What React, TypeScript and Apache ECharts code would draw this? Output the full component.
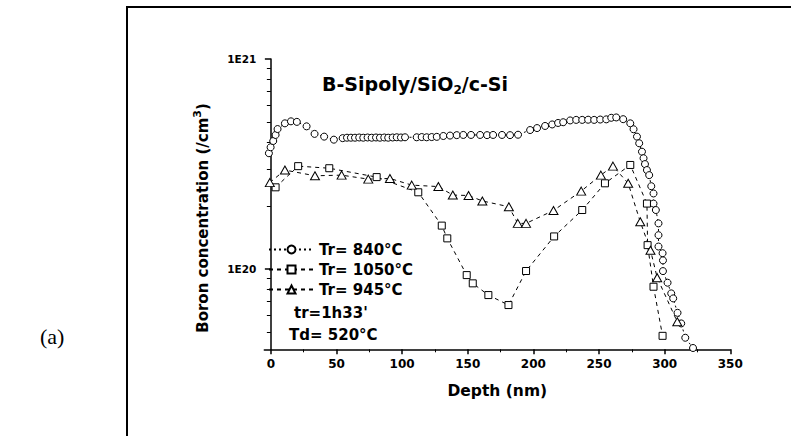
import React, { useEffect, useRef } from 'react';
import * as echarts from 'echarts';

const FONT = 'DejaVu Sans';

// Axis definitions
const X_MIN = -5;
const X_MAX = 350;
const Y_MIN = 4.15e19;
const Y_MAX = 1e21;
const xMajorTicks = [0, 50, 100, 150, 200, 250, 300, 350];
const xMinorTicks = [25, 75, 125, 175, 225, 275, 325];
const yMajorTicks = [1e20, 1e21];
const yMinorTicks = [5e19, 6e19, 7e19, 8e19, 9e19, 2e20, 3e20, 4e20, 5e20, 6e20, 7e20, 8e20, 9e20];

const seriesNames = ['Tr= 840°C', 'Tr= 1050°C', 'Tr= 945°C'];

// Tr = 840°C (circles)
const depth840 = [
  -1.5, -0.2, 1.8, 3.6, 5.1, 10.7, 15.3, 19.8, 27.2, 33.3, 40.6, 48.0, 54.7, 58.0, 61.0, 64.1,
  67.3, 70.4, 73.7, 76.8, 80.1, 83.1, 86.4, 89.4, 92.8, 95.9, 99.1, 102.2, 111.1, 114.9, 118.7,
  122.5, 126.4, 131.4, 136.5, 141.6, 146.6, 152.5, 159.4, 164.7, 169.3, 176.1, 182.2, 188.3,
  197.5, 202.8, 208.9, 214.3, 218.8, 222.7, 228.0, 232.6, 237.2, 241.7, 246.3, 250.9, 255.5,
  259.3, 263.1, 268.4, 273.8, 276.3, 278.9, 280.6, 282.7, 283.9, 285.0, 286.5, 288.2, 289.8,
  291.5, 291.5, 293.3, 295.3, 295.3, 295.3, 298.4, 298.7, 298.7, 302.2, 305.0, 306.5, 309.8,
  312.6, 315.7, 321.6,
];
const conc840 = [
  3.56e20, 3.8e20, 4.07e20, 4.35e20, 4.64e20, 4.94e20, 5.05e20, 5.02e20, 4.78e20, 4.4e20, 4.27e20,
  4.13e20, 4.2e20, 4.22e20, 4.22e20, 4.22e20, 4.23e20, 4.22e20, 4.23e20, 4.22e20, 4.23e20, 4.22e20,
  4.23e20, 4.22e20, 4.23e20, 4.24e20, 4.23e20, 4.24e20, 4.24e20, 4.25e20, 4.24e20, 4.25e20, 4.26e20,
  4.3e20, 4.32e20, 4.34e20, 4.35e20, 4.35e20, 4.35e20, 4.34e20, 4.35e20, 4.35e20, 4.34e20, 4.36e20,
  4.59e20, 4.69e20, 4.8e20, 4.88e20, 4.96e20, 5.0e20, 5.1e20, 5.13e20, 5.13e20, 5.14e20, 5.13e20,
  5.15e20, 5.16e20, 5.25e20, 5.27e20, 5.17e20, 4.94e20, 4.63e20, 4.27e20, 3.97e20, 3.62e20, 3.37e20,
  3.16e20, 2.96e20, 2.8e20, 2.48e20, 2.29e20, 2.05e20, 1.91e20, 1.65e20, 1.45e20, 1.28e20, 1.19e20,
  1.1e20, 9.78e19, 8.61e19, 7.66e19, 7.25e19, 6.19e19, 5.51e19, 4.71e19, 4.21e19,
];

// Tr = 1050°C (squares)
const depth1050 = [
  3.6, 20.8, 44.5, 80.6, 112.3, 130.2, 134.4, 149.2, 153.8, 165.7, 181.0, 194.4, 215.8, 237.2,
  254.5, 273.8, 286.5, 287.0, 291.5, 298.4,
];
const conc1050 = [
  2.45e20, 3.09e20, 3.02e20, 2.74e20, 2.32e20, 1.61e20, 1.4e20, 9.36e19, 8.55e19, 7.52e19, 6.74e19,
  9.79e19, 1.43e20, 1.91e20, 2.56e20, 3.13e20, 2.05e20, 1.3e20, 8.24e19, 4.81e19,
];

// Tr = 945°C (triangles)
const depth945 = [
  -0.8, 10.7, 33.6, 53.9, 74.2, 90.7, 107.3, 127.6, 138.6, 150.6, 161.1, 181.3, 188.1, 194.4,
  215.3, 236.4, 251.4, 260.6, 272.2, 281.4, 289.2, 294.3, 309.6,
];
const conc945 = [
  2.58e20, 2.96e20, 2.78e20, 2.8e20, 2.68e20, 2.7e20, 2.51e20, 2.47e20, 2.25e20, 2.24e20, 2.11e20,
  1.98e20, 1.65e20, 1.65e20, 1.9e20, 2.35e20, 2.8e20, 3.09e20, 2.56e20, 1.68e20, 1.23e20, 9.1e19,
  5.61e19,
];

const lg = (v: number) => Math.round(Math.log10(v) * 1e6) / 1e6;
const pairs = (xs: number[], ys: number[]) => xs.map((x, i) => [x, lg(ys[i])]);

export default function App() {
  const ref = useRef<HTMLDivElement>(null);

  useEffect(() => {
    if (!ref.current) return;
    const chart = echarts.init(ref.current, undefined, { renderer: 'svg' });

    const boldText = { fontFamily: FONT, fontWeight: 'bold' as const, color: '#000' };
    const lineBase = { color: '#000', width: 1 };
    const markerStyle = { color: '#fff', borderColor: '#000', borderWidth: 1 };

    const option: any = {
      animation: false,
      backgroundColor: '#fff',
      textStyle: { fontFamily: FONT },
      grid: { left: 264.3, right: 60.7, top: 59, bottom: 86.7, containLabel: false },
      legend: {
        orient: 'vertical',
        left: 268,
        top: 242,
        padding: 0,
        itemGap: 5,
        itemWidth: 45,
        itemHeight: 10,
        data: seriesNames,
        textStyle: { ...boldText, fontSize: 15 },
      },
      xAxis: [
        {
          type: 'value',
          min: X_MIN,
          max: X_MAX,
          position: 'bottom',
          axisLine: { show: true, lineStyle: { color: '#000', width: 1.5 } },
          axisTick: { show: true, customValues: xMajorTicks, length: 5, lineStyle: { color: '#000', width: 1.5 } },
          axisLabel: {
            customValues: xMajorTicks,
            margin: 9,
            ...boldText,
            fontSize: 12,
          },
          splitLine: { show: false },
          name: 'Depth (nm)',
          nameLocation: 'middle',
          nameGap: 34,
          nameTextStyle: { ...boldText, fontSize: 15.5 },
        },
        {
          type: 'value',
          min: X_MIN,
          max: X_MAX,
          position: 'bottom',
          axisLine: { show: false },
          axisTick: { show: true, customValues: xMinorTicks, length: 3, lineStyle: { color: '#000', width: 1 } },
          axisLabel: { show: false },
          splitLine: { show: false },
        },
      ],
      yAxis: [
        {
          type: 'value',
          min: lg(Y_MIN),
          max: lg(Y_MAX),
          position: 'left',
          axisLine: { show: true, lineStyle: { color: '#000', width: 1.5 } },
          axisTick: { show: true, customValues: yMajorTicks.map(lg), length: 6, lineStyle: { color: '#000', width: 1.5 } },
          axisLabel: {
            customValues: yMajorTicks.map(lg),
            margin: 8,
            formatter: (v: number) => '1E' + Math.round(v),
            ...boldText,
            fontSize: 10.5,
          },
          splitLine: { show: false },
        },
        {
          type: 'value',
          min: lg(Y_MIN),
          max: lg(Y_MAX),
          position: 'left',
          axisLine: { show: false },
          axisTick: { show: true, customValues: yMinorTicks.map(lg), length: 4, lineStyle: { color: '#000', width: 1 } },
          axisLabel: { show: false },
          splitLine: { show: false },
        },
      ],
      series: [
        {
          name: seriesNames[0],
          type: 'line',
          data: pairs(depth840, conc840),
          symbol: 'circle',
          symbolSize: 7,
          itemStyle: markerStyle,
          lineStyle: { ...lineBase, type: [2, 3] },
        },
        {
          name: seriesNames[1],
          type: 'line',
          data: pairs(depth1050, conc1050),
          symbol: 'rect',
          symbolSize: 7,
          itemStyle: markerStyle,
          lineStyle: { ...lineBase, type: [4, 4] },
        },
        {
          name: seriesNames[2],
          type: 'line',
          data: pairs(depth945, conc945),
          symbol: 'triangle',
          symbolSize: [9, 8],
          itemStyle: markerStyle,
          lineStyle: { ...lineBase, type: [4, 4] },
        },
      ],
      graphic: [
        { type: 'line', shape: { x1: 127, y1: 6, x2: 127, y2: 436 }, style: { stroke: '#000', lineWidth: 2 } },
        { type: 'line', shape: { x1: 126, y1: 7, x2: 791, y2: 7 }, style: { stroke: '#000', lineWidth: 2 } },
        {
          type: 'text',
          x: 322,
          y: 84,
          style: {
            text: '{a|B-Sipoly/SiO}{s|2}{a|/c-Si}',
            align: 'left',
            verticalAlign: 'middle',
            fill: '#000',
            fontFamily: FONT,
            fontWeight: 'bold',
            fontSize: 19,
            rich: {
              a: { fontFamily: FONT, fontWeight: 'bold', fontSize: 19, lineHeight: 24, fill: '#000' },
              s: { fontFamily: FONT, fontWeight: 'bold', fontSize: 12, lineHeight: 10, verticalAlign: 'bottom', fill: '#000' },
            },
          },
        },
        {
          type: 'text',
          x: 203,
          y: 218,
          rotation: Math.PI / 2,
          style: {
            text: '{a|Boron concentration (/cm}{s|3}{a|)}',
            align: 'center',
            verticalAlign: 'middle',
            fill: '#000',
            fontFamily: FONT,
            fontWeight: 'bold',
            fontSize: 15,
            rich: {
              a: { fontFamily: FONT, fontWeight: 'bold', fontSize: 15, lineHeight: 22, fill: '#000' },
              s: { fontFamily: FONT, fontWeight: 'bold', fontSize: 11, lineHeight: 11, verticalAlign: 'top', fill: '#000' },
            },
          },
        },
        {
          type: 'text',
          x: 294,
          y: 313,
          style: { text: "tr=1h33'", fontFamily: FONT, fontWeight: 'bold', fontSize: 15, fill: '#000', align: 'left', verticalAlign: 'middle' },
        },
        {
          type: 'text',
          x: 289,
          y: 334.5,
          style: { text: 'Td= 520°C', fontFamily: FONT, fontWeight: 'bold', fontSize: 15, fill: '#000', align: 'left', verticalAlign: 'middle' },
        },
        {
          type: 'text',
          x: 40,
          y: 336,
          style: { text: '(a)', fontFamily: 'Liberation Serif', fontSize: 22, fill: '#000', align: 'left', verticalAlign: 'middle' },
        },
      ],
    };

    chart.setOption(option);
    return () => chart.dispose();
  }, []);

  return (
    <div
      ref={ref}
      style={{ position: 'absolute', left: 0, top: 0, width: 791, height: 436, background: '#fff' }}
    />
  );
}
